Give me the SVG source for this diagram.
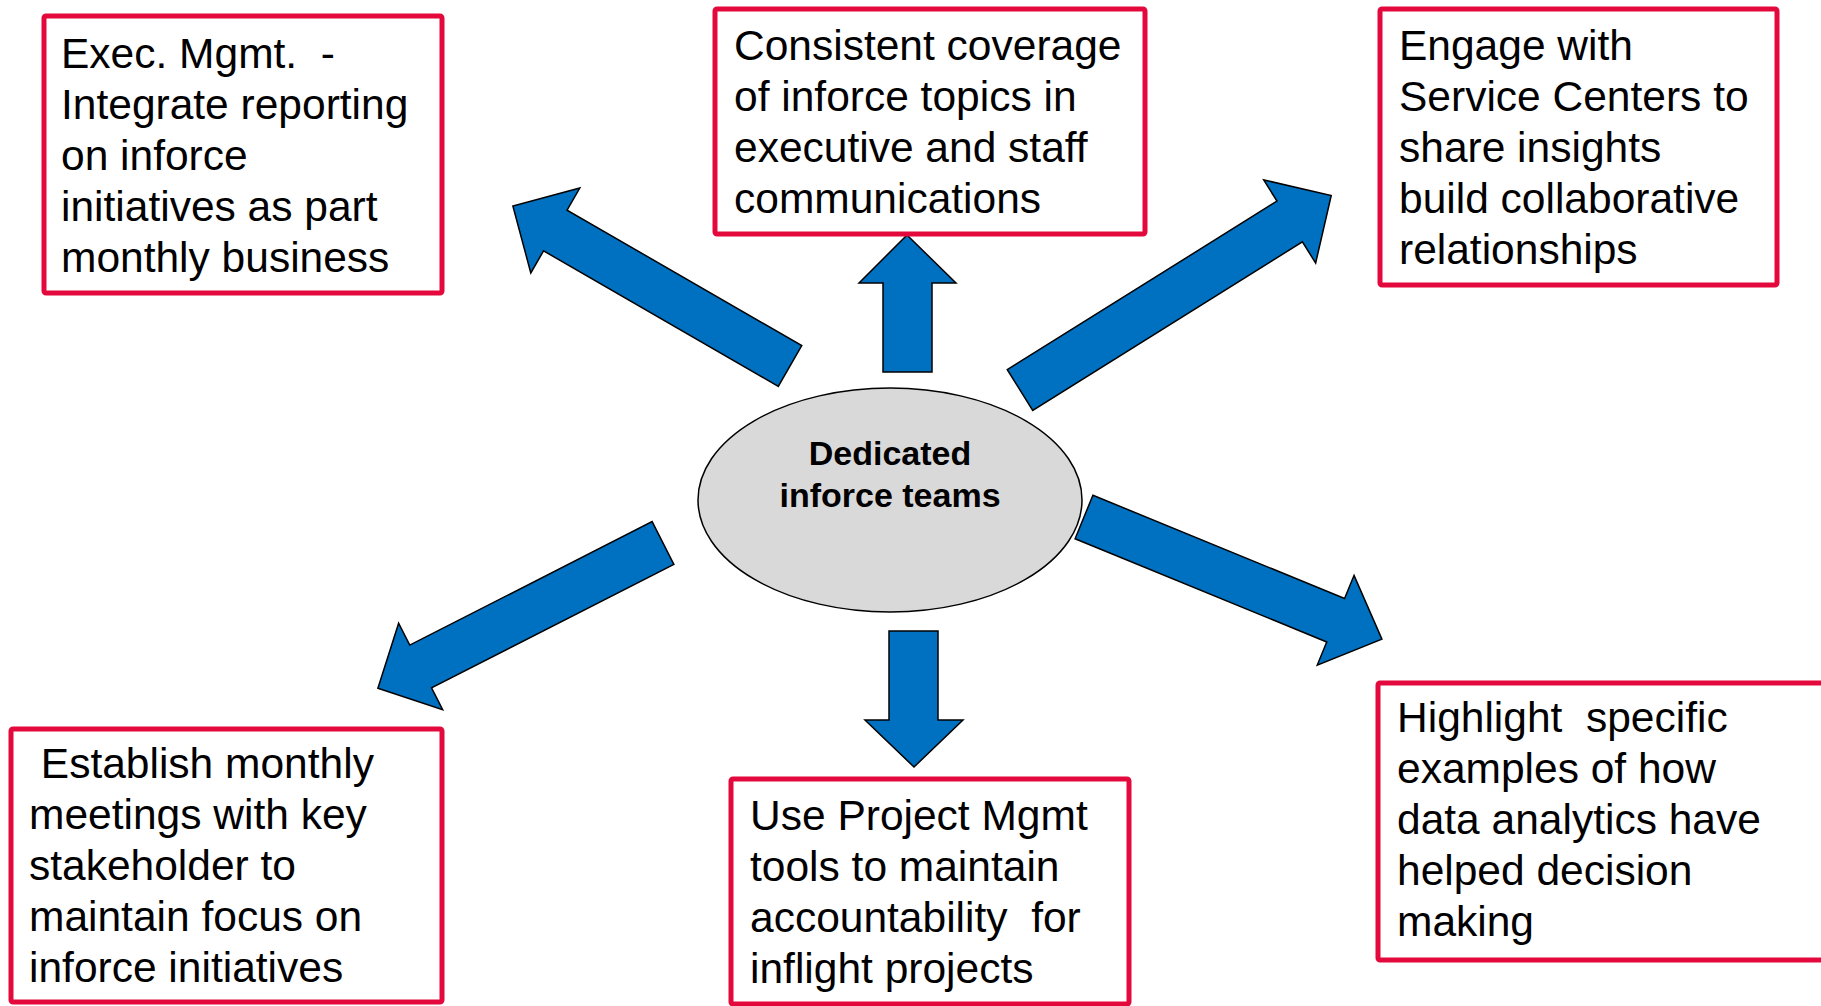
<svg xmlns="http://www.w3.org/2000/svg" width="1821" height="1006" viewBox="0 0 1821 1006">
<style>
.box{fill:#FFFFFF;stroke:#E3093C;stroke-width:5}
.t{font-family:"Liberation Sans",Arial,sans-serif;font-size:42.5px;fill:#000000;white-space:pre}
.c{font-family:"Liberation Sans",Arial,sans-serif;font-size:34px;font-weight:bold;fill:#000000;text-anchor:middle}
.arr{fill:#0070C0;stroke:#000000;stroke-width:1.5;stroke-linejoin:miter}
</style>
<rect width="1821" height="1006" fill="#FFFFFF"/>
<g id="connectors">
<polygon class="arr" transform="translate(790,366) rotate(210)" points="0,-23.5 271,-23.5 271,-49 320,0 271,49 271,23.5 0,23.5"/>
<polygon class="arr" points="883,372 883,283 859,283 907,235 956,283 932,283 932,372"/>
<polygon class="arr" transform="translate(1020,390) rotate(-32)" points="0,-24 318,-24 318,-49 367,0 318,49 318,24 0,24"/>
<polygon class="arr" transform="translate(663,543) rotate(153)" points="0,-24 272,-24 272,-48.5 320,0 272,48.5 272,24 0,24"/>
<polygon class="arr" points="889,631 938,631 938,720 963,720 914,767 865,720 889,720"/>
<polygon class="arr" transform="translate(1084,517) rotate(22.3)" points="0,-23.5 272,-23.5 272,-48.5 322,0 272,48.5 272,23.5 0,23.5"/>
</g>
<g id="center">
<ellipse cx="890" cy="500" rx="192" ry="112" fill="#D9D9D9" stroke="#000000" stroke-width="1.5"/>
<text class="c" x="890" y="465">Dedicated</text>
<text class="c" x="890" y="507">inforce teams</text>
</g>
<g id="box-exec">
<rect class="box" x="44" y="16" width="398" height="277" rx="2"/>
<text class="t" x="61" y="68">Exec. Mgmt.  -</text>
<text class="t" x="61" y="119">Integrate reporting</text>
<text class="t" x="61" y="170">on inforce</text>
<text class="t" x="61" y="221">initiatives as part</text>
<text class="t" x="61" y="272">monthly business</text>
</g>
<g id="box-coverage">
<rect class="box" x="715" y="9" width="430" height="225" rx="2"/>
<text class="t" x="734" y="60">Consistent coverage</text>
<text class="t" x="734" y="111">of inforce topics in</text>
<text class="t" x="734" y="162">executive and staff</text>
<text class="t" x="734" y="213">communications</text>
</g>
<g id="box-engage">
<rect class="box" x="1380" y="9" width="397" height="276" rx="2"/>
<text class="t" x="1399" y="60">Engage with</text>
<text class="t" x="1399" y="111">Service Centers to</text>
<text class="t" x="1399" y="162">share insights</text>
<text class="t" x="1399" y="213">build collaborative</text>
<text class="t" x="1399" y="264">relationships</text>
</g>
<g id="box-establish">
<rect class="box" x="11" y="729" width="431" height="273" rx="2"/>
<text class="t" x="29" y="778"> Establish monthly</text>
<text class="t" x="29" y="829">meetings with key</text>
<text class="t" x="29" y="880">stakeholder to</text>
<text class="t" x="29" y="931">maintain focus on</text>
<text class="t" x="29" y="982">inforce initiatives</text>
</g>
<g id="box-project">
<rect class="box" x="731" y="779" width="398" height="225" rx="2"/>
<text class="t" x="750" y="830">Use Project Mgmt</text>
<text class="t" x="750" y="881">tools to maintain</text>
<text class="t" x="750" y="932">accountability  for</text>
<text class="t" x="750" y="983">inflight projects</text>
</g>
<g id="box-highlight">
<rect class="box" x="1378" y="683" width="460" height="277" rx="2"/>
<text class="t" x="1397" y="732">Highlight  specific</text>
<text class="t" x="1397" y="783">examples of how</text>
<text class="t" x="1397" y="834">data analytics have</text>
<text class="t" x="1397" y="885">helped decision</text>
<text class="t" x="1397" y="936">making</text>
</g>
</svg>
